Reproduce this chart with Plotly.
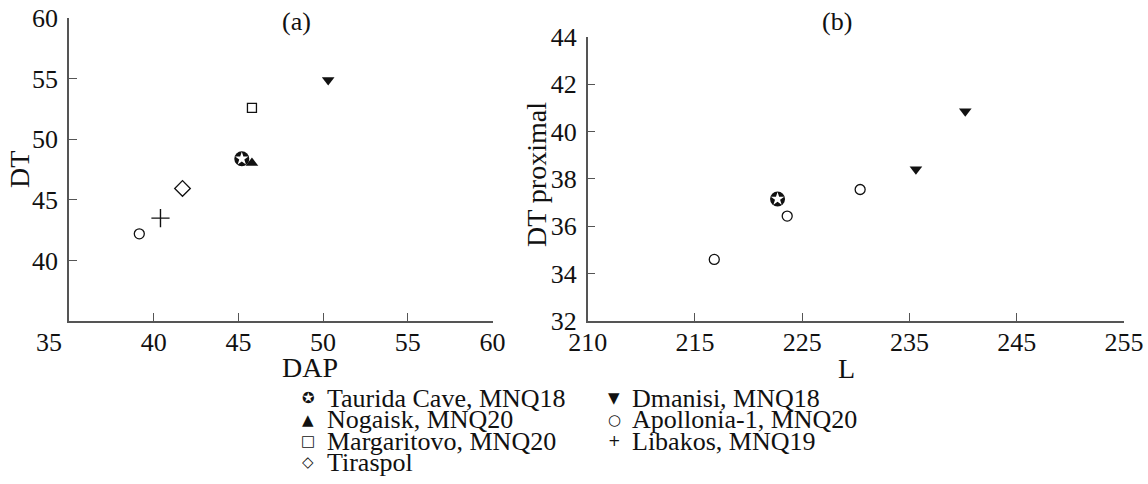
import plotly.graph_objects as go

# ---------------- data ----------------
# Panel (a): DAP vs DT
taurida_a_dap = [45.2]
taurida_a_dt = [48.4]
nogaisk_a_dap = [45.8]
nogaisk_a_dt = [48.05]
margaritovo_a_dap = [45.8]
margaritovo_a_dt = [52.6]
tiraspol_a_dap = [41.7]
tiraspol_a_dt = [45.95]
dmanisi_a_dap = [50.3]
dmanisi_a_dt = [54.9]
apollonia_a_dap = [39.15]
apollonia_a_dt = [42.2]
libakos_a_dap = [40.4]
libakos_a_dt = [43.5]

# Panel (b): L vs DT proximal
taurida_b_l = [222.7]
taurida_b_dt = [37.15]
apollonia_b_l = [216.8, 223.6, 230.4]
apollonia_b_dt = [34.6, 36.43, 37.55]
dmanisi_b_l = [235.6, 240.2]
dmanisi_b_dt = [38.4, 40.85]

# axis ticks
a_x_ticks = [40, 45, 50, 55, 60]
a_y_ticks = [40, 45, 50, 55, 60]
b_x_tickvals = [205, 215, 225, 235, 245, 255]
b_x_ticktext = ["210", "215", "225", "235", "245", "255"]
b_y_ticks = [32, 34, 36, 38, 40, 42, 44]

legend_col1 = [("✪", "Taurida Cave, MNQ18"), ("▲", "Nogaisk, MNQ20"),
               ("□", "Margaritovo, MNQ20"), ("◇", "Tiraspol")]
legend_col2 = [("▼", "Dmanisi, MNQ18"), ("○", "Apollonia-1, MNQ20"),
               ("+", "Libakos, MNQ19")]

# ---------------- figure ----------------
W, H = 1148, 484
FONT = "Liberation Serif"
INK = "#111111"
AXC = "#555555"

fig = go.Figure()


def add(x, y, xa, ya, symbol, size, filled=True, lw=1.3, color=INK):
    fig.add_trace(go.Scatter(
        x=x, y=y, xaxis=xa, yaxis=ya, mode="markers", showlegend=False,
        hoverinfo="skip",
        marker=dict(symbol=symbol, size=size,
                    color=color if filled else "white",
                    line=dict(color=INK, width=lw if not filled else 0))))


# panel a
add(apollonia_a_dap, apollonia_a_dt, "x", "y", "circle", 10, filled=False)
add(libakos_a_dap, libakos_a_dt, "x", "y", "cross-thin", 13, filled=False, lw=1.4)
add(tiraspol_a_dap, tiraspol_a_dt, "x", "y", "diamond", 12, filled=False)
add(margaritovo_a_dap, margaritovo_a_dt, "x", "y", "square", 9, filled=False)
add(dmanisi_a_dap, dmanisi_a_dt, "x", "y", "triangle-down", 11)
add(nogaisk_a_dap, nogaisk_a_dt, "x", "y", "triangle-up", 11)
add(taurida_a_dap, taurida_a_dt, "x", "y", "circle", 15)
add(taurida_a_dap, taurida_a_dt, "x", "y", "star", 10, color="white")

# panel b
add(apollonia_b_l, apollonia_b_dt, "x2", "y2", "circle", 10, filled=False)
add(dmanisi_b_l, dmanisi_b_dt, "x2", "y2", "triangle-down", 11)
add(taurida_b_l, taurida_b_dt, "x2", "y2", "circle", 15)
add(taurida_b_l, taurida_b_dt, "x2", "y2", "star", 10, color="white")


def px_x(px):
    return px / W


def px_y(py):
    return 1 - py / H


TICK_SIZE = 26
axis_common = dict(showline=True, linecolor=AXC, linewidth=1.5, ticks="inside",
                   ticklen=8, tickwidth=1.3, tickcolor=AXC, showgrid=False,
                   zeroline=False, mirror=False, automargin=False,
                   tickfont=dict(family=FONT, size=TICK_SIZE, color=INK))

fig.update_layout(
    template="none",
    width=W, height=H, margin=dict(l=0, r=0, t=0, b=0),
    paper_bgcolor="white", plot_bgcolor="white", showlegend=False,
    xaxis=dict(domain=[px_x(69), px_x(492.5)], range=[35, 60],
               tickvals=a_x_ticks, anchor="y", ticklabelstandoff=-3, **axis_common),
    yaxis=dict(domain=[px_y(321), px_y(18.3)], range=[35, 60],
               tickvals=a_y_ticks, anchor="x", ticklabelstandoff=4, **axis_common),
    xaxis2=dict(domain=[px_x(587.7), px_x(1124)], range=[205, 255],
                tickvals=b_x_tickvals, ticktext=b_x_ticktext, anchor="y2",
                ticklabelstandoff=-3, **axis_common),
    yaxis2=dict(domain=[px_y(321), px_y(36.7)], range=[32, 44],
                tickvals=b_y_ticks, anchor="x2", ticklabelstandoff=4, **axis_common),
)

ann = []
tf = dict(family=FONT, size=TICK_SIZE, color=INK)
# origin label of panel (a)
ann.append(dict(x=35, xref="x", y=px_y(342), yref="paper", text="35",
                showarrow=False, xshift=-20, font=tf, yanchor="middle"))
# panel titles
ann.append(dict(x=px_x(280), y=px_y(22), xref="paper", yref="paper", text="(a)",
                showarrow=False, font=tf, yanchor="middle"))
ann.append(dict(x=px_x(854), y=px_y(22), xref="paper", yref="paper", text="(b)",
                showarrow=False, font=tf, yanchor="middle"))
# axis titles
titf = dict(family=FONT, size=28, color=INK)
ann.append(dict(x=px_x(280), y=px_y(367), xref="paper", yref="paper", text="DAP",
                showarrow=False, font=titf, yanchor="middle"))
ann.append(dict(x=px_x(857), y=px_y(368), xref="paper", yref="paper", text="L",
                showarrow=False, font=titf, yanchor="middle"))
ann.append(dict(x=px_x(19), y=px_y(170), xref="paper", yref="paper", text="DT",
                showarrow=False, font=titf, textangle=-90, xanchor="center", yanchor="middle"))
ann.append(dict(x=px_x(537), y=px_y(175), xref="paper", yref="paper", text="DT proximal",
                showarrow=False, font=titf, textangle=-90, xanchor="center", yanchor="middle"))

# legend (as text)
legf = dict(family=FONT, size=26, color=INK)
symf = dict(family="DejaVu Sans", size=15, color=INK)
rows = [398, 419.5, 441, 462]
for i, (s, t) in enumerate(legend_col1):
    ann.append(dict(x=px_x(308), y=px_y(rows[i]), xref="paper", yref="paper", text=s,
                    showarrow=False, font=symf, xanchor="center", yanchor="middle"))
    ann.append(dict(x=px_x(325), y=px_y(rows[i]), xref="paper", yref="paper", text=t,
                    showarrow=False, font=legf, xanchor="left", yanchor="middle"))
for i, (s, t) in enumerate(legend_col2):
    ann.append(dict(x=px_x(614), y=px_y(rows[i]), xref="paper", yref="paper", text=s,
                    showarrow=False, font=symf, xanchor="center", yanchor="middle"))
    ann.append(dict(x=px_x(630), y=px_y(rows[i]), xref="paper", yref="paper", text=t,
                    showarrow=False, font=legf, xanchor="left", yanchor="middle"))

fig.update_layout(annotations=ann, hovermode=False)
fig.write_html("out.html", config={"displayModeBar": False},
               post_script="document.body.style.margin='0';")
